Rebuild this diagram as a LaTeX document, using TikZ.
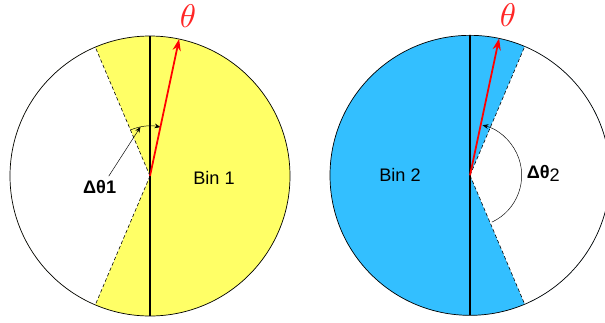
\documentclass[tikz,border=0pt]{standalone}
\usepackage{fontspec}
\setmainfont{Liberation Sans}
\usetikzlibrary{positioning,arrows.meta,calc}
\definecolor{binyellow}{HTML}{FFFF66}
\definecolor{binblue}{HTML}{33BFFF}

\begin{document}
\begin{tikzpicture}[>={Stealth[length=5pt,width=4pt]},
  lbl/.style={font=\fontsize{15.5}{18}\selectfont},
  rim/.style={line width=0.6pt},
  cut/.style={densely dashed,line width=0.5pt},
  axis/.style={line width=1.3pt},
  dir/.style={red,line width=1.5pt,-{Stealth[length=10pt,width=7pt]}},
  theta/.style={text=red!85!white,scale=2.8}]
  \useasboundingbox (0,0) rectangle (18.15,-9.66);
  % left disc (bin 1)
  \coordinate (c1) at (4.5,-5.28);
  \fill[binyellow] (c1) circle (4.2);
  \fill[white] (c1) -- ($(c1)+(113:4.2)$) arc (113:247:4.2) -- cycle;
  \coordinate (u1) at ($(c1)+(113:4.2)$);
  \coordinate (l1) at ($(c1)+(247:4.2)$);
  \coordinate (n1) at ($(c1)+(90:4.2)$);
  \coordinate (s1) at ($(c1)+(270:4.2)$);
  \coordinate (r1) at ($(c1)+(78:4.2)$);
  \draw[cut] (c1) -- (u1);
  \draw[cut] (c1) -- (l1);
  \draw[rim] (c1) circle (4.2);
  \draw[axis] (n1) -- (s1);
  \draw[->] ($(c1)+(113:1.5)$) arc (113:78:1.5);
  \draw[dir] (c1) -- (r1);
  \coordinate (p1) at ($(c1)+(101:1.5)$);
  \node[lbl] (d1) at (2.99,-5.61) {\textbf{Δθ1}};
  \draw[->] (d1.50) -- (p1);
  \node[lbl] (b1) at (6.42,-5.33) {Bin 1};
  \node[theta] (t1) at (5.64,-0.48) {$\theta$};
  % right disc (bin 2)
  \coordinate (c2) at (14.1,-5.26);
  \fill[binblue] (c2) circle (4.2);
  \fill[white] (c2) -- ($(c2)+(-67:4.2)$) arc (-67:67:4.2) -- cycle;
  \coordinate (u2) at ($(c2)+(67:4.2)$);
  \coordinate (l2) at ($(c2)+(-67:4.2)$);
  \coordinate (n2) at ($(c2)+(90:4.2)$);
  \coordinate (s2) at ($(c2)+(270:4.2)$);
  \coordinate (r2) at ($(c2)+(78:4.2)$);
  \draw[cut] (c2) -- (u2);
  \draw[cut] (c2) -- (l2);
  \draw[rim] (c2) circle (4.2);
  \draw[axis] (n2) -- (s2);
  \draw[->] ($(c2)+(-65:1.55)$) arc (-65:76:1.55);
  \draw[dir] (c2) -- (r2);
  \node[lbl] (d2) at (16.3,-5.2) {\textbf{Δθ}\raisebox{-0.35ex}{2}};
  \node[lbl] (b2) at (12.0,-5.25) {Bin 2};
  \node[theta] (t2) at (15.24,-0.45) {$\theta$};
\end{tikzpicture}
\end{document}
